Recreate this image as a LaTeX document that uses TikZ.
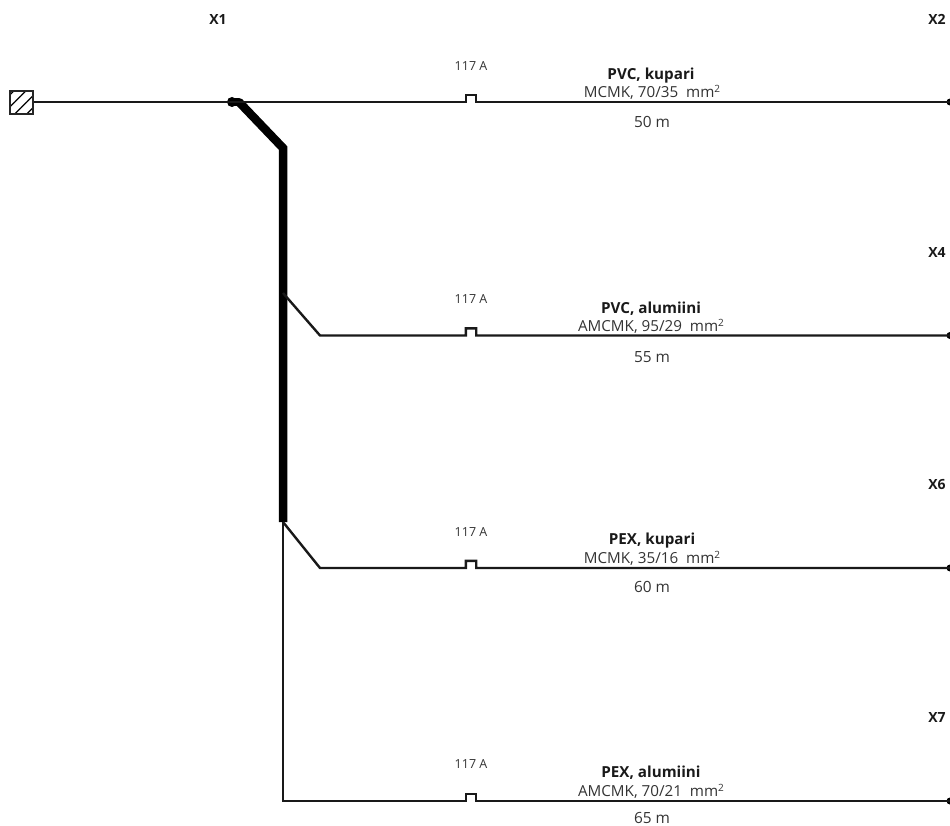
\documentclass[tikz,border=0pt]{standalone}
\usepackage{fontspec}
\setmainfont{Open Sans}
\usetikzlibrary{patterns.meta}
\newcommand{\mmsq}{\ \ mm\raisebox{.6ex}{\fontsize{10}{10}\selectfont 2}}
\tikzset{
	wire/.style={line width=2.4pt,black!90},
	busbar/.style={line width=8.5pt,black},
	fuse/.style={inner sep=0pt,minimum width=10pt,minimum height=7pt},
	endpoint/.style={circle,fill=black,inner sep=0pt,minimum size=7pt},
	station/.style={font=\bfseries\fontsize{14}{16}\selectfont,text=black!90},
	rating/.style={font=\fontsize{12.5}{14}\selectfont,text=black!80},
	cabletype/.style={font=\bfseries\fontsize{15.2}{17}\selectfont,text=black!90},
	cablesize/.style={font=\fontsize{15.2}{17}\selectfont,text=black!80},
	cablelength/.style={font=\fontsize{15.4}{17}\selectfont,text=black!80,inner sep=0pt}
}
\begin{document}
\begin{tikzpicture}[x=1pt,y=-1pt]
		\useasboundingbox (0,0) rectangle (950,826);
		% source and main line
		\node[draw=black!85,line width=1.3pt,minimum size=23pt,inner sep=0pt,pattern={Lines[angle=45,distance=8.5pt,line width=1.2pt]}] (source) at (21.5,102.5) {};
		\node[circle,fill=black,inner sep=0pt,minimum size=10pt] (joint) at (232,102) {};
		\coordinate (busstart) at (239,102);
		\coordinate (bend) at (283,148);
		\coordinate (tapa) at (283,293);
		\coordinate (tapb) at (283,522);
		\coordinate (corner) at (283,801);
		\coordinate (starta) at (320,335.5);
		\coordinate (startb) at (320,568);
		\node[fuse] (fuse2) at (471,98.5) {};
		\node[fuse] (fuse4) at (471,332) {};
		\node[fuse] (fuse6) at (471,564.5) {};
		\node[fuse] (fuse7) at (471,797.5) {};
		\node[endpoint] (end2) at (950,102) {};
		\node[endpoint] (end4) at (950,335.5) {};
		\node[endpoint] (end6) at (950,568) {};
		\node[endpoint] (end7) at (950,801) {};
		% busbar
		\draw[busbar,line cap=round] (joint.center) -- (busstart);
		\draw[busbar,line join=miter] (busstart) -- (bend) -- (tapb);
		% feeders
		\draw[wire] (source.east |- joint.center) -- (joint.center) -- (joint.center -| fuse2.south west) -- (fuse2.north west) -- (fuse2.north east) -- (joint.center -| fuse2.south east) -- (joint.center -| end2.center);
		\draw[wire] (tapa) -- (starta) -- (starta -| fuse4.south west) -- (fuse4.north west) -- (fuse4.north east) -- (starta -| fuse4.south east) -- (starta -| end4.center);
		\draw[wire] (tapb) -- (startb) -- (startb -| fuse6.south west) -- (fuse6.north west) -- (fuse6.north east) -- (startb -| fuse6.south east) -- (startb -| end6.center);
		\draw[wire] (tapb) -- (corner) -- (corner -| fuse7.south west) -- (fuse7.north west) -- (fuse7.north east) -- (corner -| fuse7.south east) -- (corner -| end7.center);
		% stations
		\node[station] (x1) at (218,19.5) {X1};
		\node[station] (x2) at (937,19.5) {X2};
		\node[station] (x4) at (937,252.5) {X4};
		\node[station] (x6) at (937,485) {X6};
		\node[station] (x7) at (937,717.5) {X7};
		% fuse ratings
		\node[rating] (rating2) at (471,66) {117 A};
		\node[rating] (rating4) at (471,299) {117 A};
		\node[rating] (rating6) at (471,532) {117 A};
		\node[rating] (rating7) at (471,764) {117 A};
		% cable data
		\node[cabletype] (type2) at (651,75.5) {PVC, kupari};
		\node[cablesize] (size2) at (652,92) {MCMK, 70/35\mmsq};
		\node[cablelength] (length2) at (652,122) {50 m};
		\node[cabletype] (type4) at (651,308.5) {PVC, alumiini};
		\node[cablesize] (size4) at (651,326) {AMCMK, 95/29\mmsq};
		\node[cablelength] (length4) at (652,357) {55 m};
		\node[cabletype] (type6) at (652,540.5) {PEX, kupari};
		\node[cablesize] (size6) at (652,558) {MCMK, 35/16\mmsq};
		\node[cablelength] (length6) at (652,587) {60 m};
		\node[cabletype] (type7) at (651,772.5) {PEX, alumiini};
		\node[cablesize] (size7) at (651,791) {AMCMK, 70/21\mmsq};
		\node[cablelength] (length7) at (652,818) {65 m};
	\end{tikzpicture}
\end{document}
